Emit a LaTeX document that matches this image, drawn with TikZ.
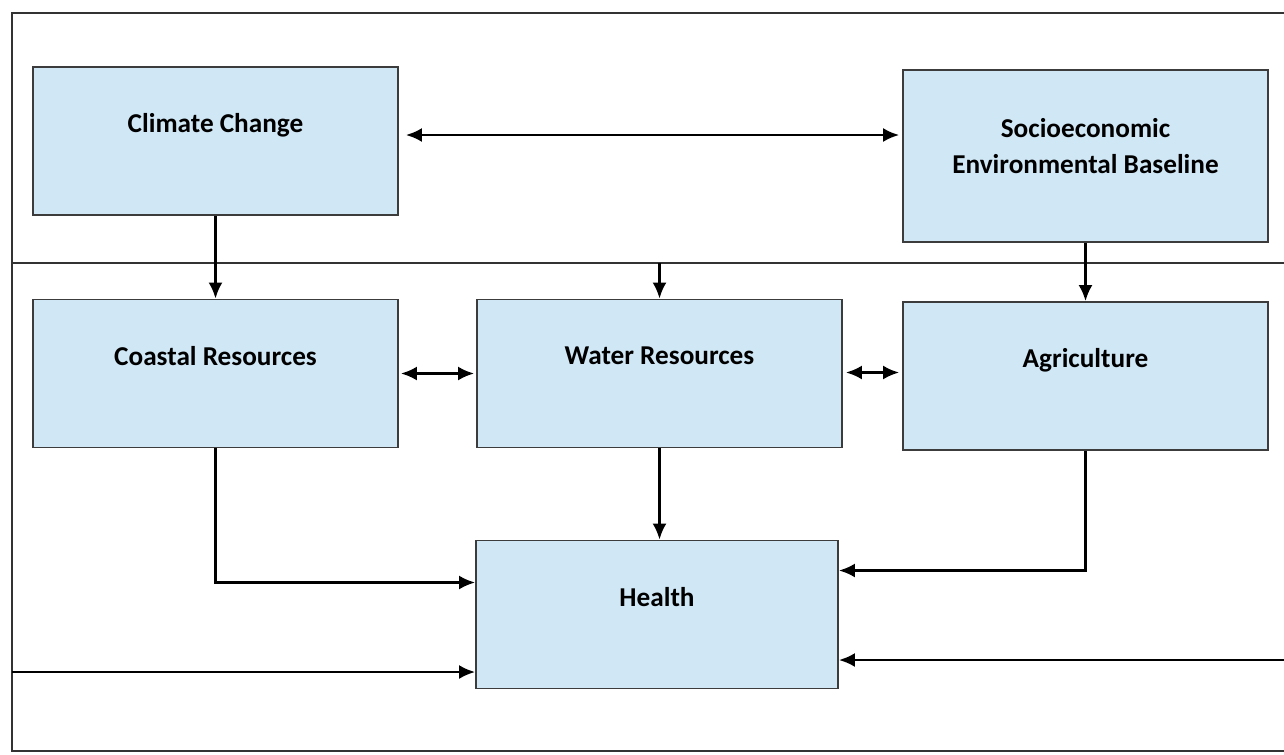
\documentclass[tikz,border=0pt]{standalone}
\usepackage{fontspec}
\setmainfont{Carlito}
\usetikzlibrary{arrows.meta}
\definecolor{boxfill}{RGB}{208,231,245}
\definecolor{boxline}{RGB}{60,60,60}
\tikzset{
	box/.style={draw=boxline, line width=1.1pt, fill=boxfill, minimum width=7.3cm, minimum height=2.96cm,
		font=\bfseries\fontsize{15.5}{20}\selectfont, text depth=0.72cm, align=center},
	frame/.style={line width=1.1pt, draw=black!80},
	arr/.style={line width=1.4pt, -{Latex[length=3.2mm,width=2.8mm]}},
	dbl/.style={line width=1.4pt, {Latex[length=3.2mm,width=2.8mm]}-{Latex[length=3.2mm,width=2.8mm]}}
}
\begin{document}
\begin{tikzpicture}[x=0.02cm, y=-0.02cm]
			      \useasboundingbox (0,0) rectangle (1284,754);
			      % frame
			      \draw[frame] (1284,13) -- (12,13) -- (12,751) -- (1284,751);
			      \draw[frame] (12,263) -- (1284,263);
			      \coordinate (div) at (0,263);

			      % boxes
			      \node[box] (clim) at (215.5,141) {Climate Change};
			      \node[box, minimum height=3.44cm, text depth=0.4cm] (socio) at (1085.5,156) {Socioeconomic\\Environmental Baseline};
			      \node[box] (coast) at (215.5,373.5) {Coastal Resources};
			      \node[box] (water) at (659.5,373.5) {Water Resources};
			      \node[box] (agri) at (1085.5,376) {Agriculture};
			      \node[box, minimum width=7.24cm] (health) at (657,614.5) {Health};

			      % links
			      \draw[dbl] ([shift={(7,-6)}]clim.east) -- ([shift={(-3,-21)}]socio.west);
			      \draw[arr] (clim.south) -- (coast.north);
			      \draw[arr] (water.north |- div) -- (water.north);
			      \draw[arr] (socio.south) -- (agri.north);
			      \draw[dbl] ([shift={(2,0)}]coast.east) -- ([shift={(-2,0)}]water.west);
			      \draw[dbl] ([shift={(3,-1)}]water.east) -- ([shift={(-3,-1)}]water.east -| agri.west);
			      \draw[arr] (water.south) -- (water.south |- health.north);
			      \draw[arr] (coast.south) |- ([shift={(0,-32)}]health.west);
			      \draw[arr] (agri.south) |- ([shift={(0,-44)}]health.east);
			      \coordinate (lin) at (12,672);
			      \coordinate (rin) at (1284,660);
			      \draw[arr] (lin) -- (lin -| health.west);
			      \draw[arr] (rin) -- (rin -| health.east);
		      \end{tikzpicture}
\end{document}
